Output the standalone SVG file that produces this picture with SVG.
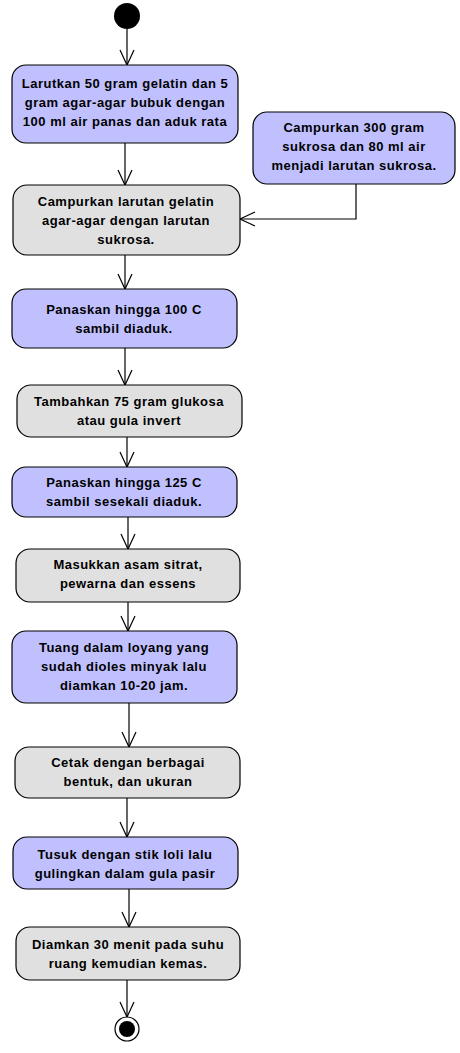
<svg xmlns="http://www.w3.org/2000/svg" width="460" height="1053" viewBox="0 0 460 1053">
<style>
.bg{fill:#ffffff}
.act{stroke:#000;stroke-width:1.2}
.p{fill:#c0c0ff}
.g{fill:#e0e0e0}
text{font-family:"Liberation Sans",Arial,sans-serif;font-weight:bold;font-size:13px;letter-spacing:0.5px;fill:#000;text-anchor:middle}
.c{fill:none;stroke:#000;stroke-width:1.2}
</style>
<defs>
<marker id="arr" markerUnits="userSpaceOnUse" viewBox="-16 -8 18 16" refX="0" refY="0" markerWidth="18" markerHeight="16" orient="auto">
<path d="M-15,-7 L0,0 L-15,7" fill="none" stroke="#000" stroke-width="1.2"/>
</marker>
</defs>
<rect class="bg" width="460" height="1053"/>
<g id="connectors">
<path class="c" d="M127,29 L127,65" marker-end="url(#arr)"/>
<path class="c" d="M125,143 L125,185" marker-end="url(#arr)"/>
<path class="c" d="M356,184 L356,219 L240,219" marker-end="url(#arr)"/>
<path class="c" d="M125,255 L125,289" marker-end="url(#arr)"/>
<path class="c" d="M125,348 L125,385" marker-end="url(#arr)"/>
<path class="c" d="M127,437 L127,467" marker-end="url(#arr)"/>
<path class="c" d="M128,517 L128,549" marker-end="url(#arr)"/>
<path class="c" d="M128,602 L128,631" marker-end="url(#arr)"/>
<path class="c" d="M129,703 L129,747" marker-end="url(#arr)"/>
<path class="c" d="M127,798 L127,837" marker-end="url(#arr)"/>
<path class="c" d="M129,889 L129,927" marker-end="url(#arr)"/>
<path class="c" d="M127,980 L127,1017" marker-end="url(#arr)"/>
</g>
<g id="start"><circle cx="127" cy="16" r="13" fill="#000"/></g>
<g id="n1"><rect class="act p" x="12" y="65" width="226" height="78" rx="14"/>
<text x="125" y="88">Larutkan 50 gram gelatin dan 5</text>
<text x="125" y="107">gram agar-agar bubuk dengan</text>
<text x="125" y="126">100 ml air panas dan aduk rata</text></g>
<g id="n2"><rect class="act p" x="253" y="112" width="202" height="72" rx="14"/>
<text x="354" y="132">Campurkan 300 gram</text>
<text x="354" y="151">sukrosa dan 80 ml air</text>
<text x="354" y="170">menjadi larutan sukrosa.</text></g>
<g id="n3"><rect class="act g" x="13" y="185" width="227" height="70" rx="14"/>
<text x="126" y="206">Campurkan larutan gelatin</text>
<text x="126" y="225">agar-agar dengan larutan</text>
<text x="126" y="244">sukrosa.</text></g>
<g id="n4"><rect class="act p" x="12" y="289" width="225" height="59" rx="14"/>
<text x="124" y="314">Panaskan hingga 100 C</text>
<text x="124" y="333">sambil diaduk.</text></g>
<g id="n5"><rect class="act g" x="17" y="385" width="225" height="52" rx="14"/>
<text x="129" y="406">Tambahkan 75 gram glukosa</text>
<text x="129" y="425">atau gula invert</text></g>
<g id="n6"><rect class="act p" x="12" y="467" width="225" height="50" rx="14"/>
<text x="124" y="487">Panaskan hingga 125 C</text>
<text x="124" y="506">sambil sesekali diaduk.</text></g>
<g id="n7"><rect class="act g" x="16" y="549" width="224" height="53" rx="14"/>
<text x="128" y="569">Masukkan asam sitrat,</text>
<text x="128" y="588">pewarna dan essens</text></g>
<g id="n8"><rect class="act p" x="12" y="631" width="225" height="72" rx="14"/>
<text x="124" y="652">Tuang dalam loyang yang</text>
<text x="124" y="671">sudah dioles minyak lalu</text>
<text x="124" y="690">diamkan 10-20 jam.</text></g>
<g id="n9"><rect class="act g" x="15" y="747" width="225" height="51" rx="14"/>
<text x="128" y="767">Cetak dengan berbagai</text>
<text x="128" y="786">bentuk, dan ukuran</text></g>
<g id="n10"><rect class="act p" x="13" y="837" width="225" height="52" rx="14"/>
<text x="125" y="859">Tusuk dengan stik loli lalu</text>
<text x="125" y="878">gulingkan dalam gula pasir</text></g>
<g id="n11"><rect class="act g" x="16" y="927" width="224" height="53" rx="14"/>
<text x="128" y="949">Diamkan 30 menit pada suhu</text>
<text x="128" y="968">ruang kemudian kemas.</text></g>
<g id="end"><circle cx="127" cy="1029" r="12" fill="#fff" stroke="#000" stroke-width="1.2"/><circle cx="127" cy="1029" r="8" fill="#000"/></g>
</svg>
